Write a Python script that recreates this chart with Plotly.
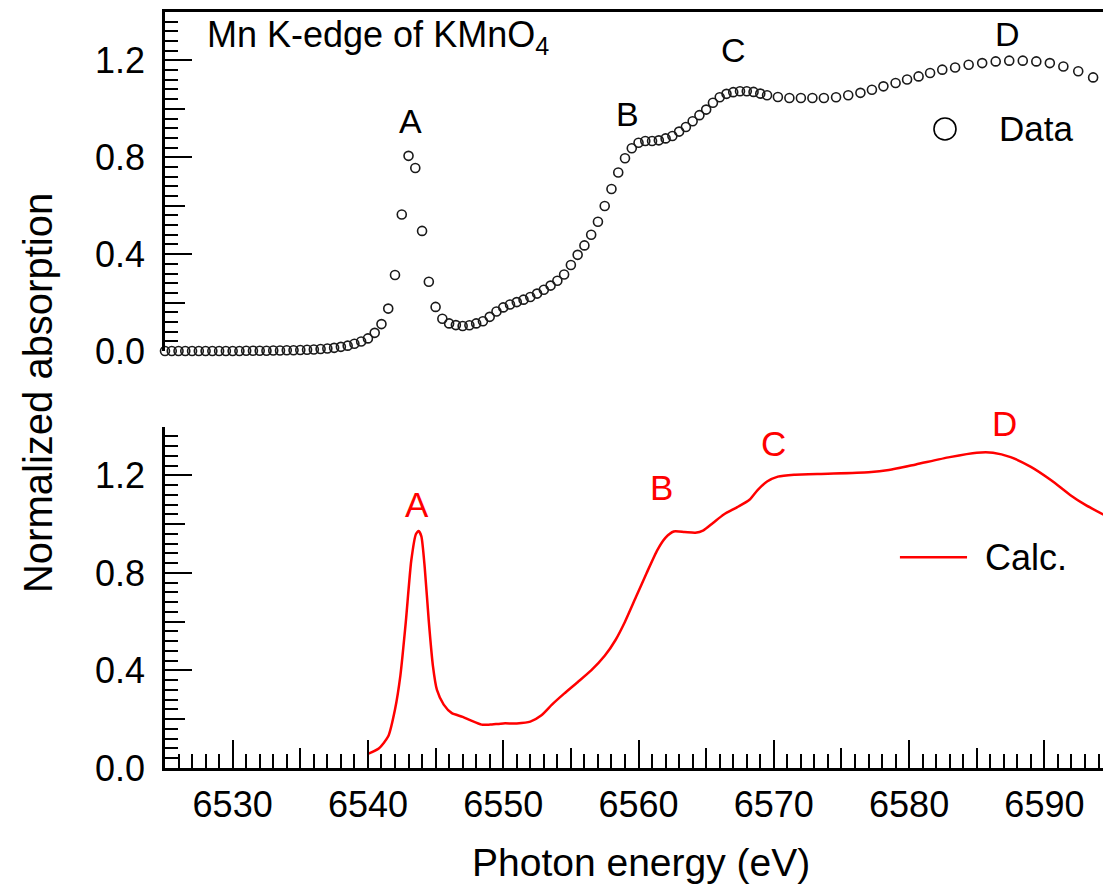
import plotly.graph_objects as go

# ---------------------------------------------------------------
# Mn K-edge XANES of KMnO4: measured spectrum (top) and calculation (bottom)
# ---------------------------------------------------------------

# Measured spectrum (open circles)
data_energy = [
    6525.0, 6525.5, 6526.0, 6526.5, 6527.0, 6527.5, 6528.0, 6528.5, 6529.0, 6529.5,
    6530.0, 6530.5, 6531.0, 6531.5, 6532.0, 6532.5, 6533.0, 6533.5, 6534.0, 6534.5,
    6535.0, 6535.5, 6536.0, 6536.5, 6537.0, 6537.5, 6538.0, 6538.5, 6539.0, 6539.5,
    6540.0, 6540.5, 6541.0, 6541.5, 6542.0, 6542.5, 6543.0, 6543.5, 6544.0, 6544.5,
    6545.0, 6545.5, 6546.0, 6546.5, 6547.0, 6547.5, 6548.0, 6548.5, 6549.0, 6549.5,
    6550.0, 6550.5, 6551.0, 6551.5, 6552.0, 6552.5, 6553.0, 6553.5, 6554.0, 6554.5,
    6555.0, 6555.5, 6556.0, 6556.5, 6557.0, 6557.5, 6558.0, 6558.5, 6559.0, 6559.5,
    6560.0, 6560.5, 6561.0, 6561.5, 6562.0, 6562.5, 6563.0, 6563.5, 6564.0, 6564.5,
    6565.0, 6565.5, 6566.0, 6566.5, 6567.0, 6567.5, 6568.0, 6568.5, 6569.0, 6569.5,
    6570.3, 6571.15, 6572.0, 6572.85, 6573.7, 6574.6, 6575.5, 6576.4, 6577.25, 6578.1,
    6579.0, 6579.85, 6580.7, 6581.55, 6582.45, 6583.4, 6584.4, 6585.4, 6586.4, 6587.4,
    6588.4, 6589.4, 6590.4, 6591.4, 6592.5, 6593.6,
]
data_absorption = [
    0.000, 0.000, 0.000, 0.000, 0.000, 0.000, 0.000, 0.000, 0.000, 0.000,
    0.000, 0.000, 0.001, 0.001, 0.001, 0.001, 0.002, 0.002, 0.003, 0.003,
    0.004, 0.005, 0.006, 0.008, 0.010, 0.013, 0.017, 0.022, 0.030, 0.039,
    0.052, 0.075, 0.111, 0.175, 0.314, 0.564, 0.806, 0.756, 0.496, 0.286,
    0.182, 0.133, 0.114, 0.107, 0.103, 0.106, 0.114, 0.123, 0.141, 0.163,
    0.180, 0.192, 0.202, 0.212, 0.223, 0.237, 0.253, 0.270, 0.290, 0.316,
    0.355, 0.397, 0.436, 0.480, 0.534, 0.599, 0.669, 0.737, 0.796, 0.837,
    0.860, 0.867, 0.867, 0.870, 0.878, 0.888, 0.906, 0.925, 0.949, 0.974,
    0.997, 1.025, 1.048, 1.062, 1.069, 1.073, 1.073, 1.070, 1.063, 1.056,
    1.049, 1.045, 1.045, 1.045, 1.045, 1.048, 1.056, 1.066, 1.079, 1.093,
    1.107, 1.121, 1.134, 1.148, 1.162, 1.171, 1.182, 1.189, 1.196, 1.199,
    1.199, 1.196, 1.189, 1.175, 1.155, 1.130,
]

# Calculated spectrum (red line)
calc_energy = [
    6540.0, 6540.8, 6541.5, 6542.0, 6542.4, 6542.8, 6543.2, 6543.55, 6543.75, 6543.95,
    6544.2, 6544.5, 6544.8, 6545.1, 6545.6, 6546.2, 6547.0, 6547.6, 6548.4, 6549.0,
    6550.0, 6551.0, 6552.0, 6552.8, 6553.6, 6554.5, 6555.5, 6556.5, 6557.5, 6558.3,
    6559.0, 6559.8, 6560.6, 6561.4, 6562.0, 6562.6, 6563.4, 6564.2, 6564.8, 6565.5,
    6566.3, 6567.3, 6568.2, 6568.8, 6569.5, 6570.3, 6571.5, 6574.0, 6577.0, 6578.5,
    6580.5, 6583.0, 6585.0, 6586.2, 6587.5, 6589.0, 6590.5, 6591.9, 6593.0, 6594.4,
]
calc_absorption = [
    0.058, 0.080, 0.130, 0.240, 0.380, 0.600, 0.850, 0.960, 0.972, 0.950,
    0.820, 0.600, 0.420, 0.320, 0.260, 0.225, 0.210, 0.195, 0.178, 0.178,
    0.183, 0.183, 0.190, 0.215, 0.260, 0.305, 0.352, 0.400, 0.460, 0.525,
    0.600, 0.700, 0.800, 0.895, 0.945, 0.970, 0.968, 0.965, 0.975, 1.005,
    1.040, 1.070, 1.100, 1.140, 1.175, 1.195, 1.203, 1.207, 1.213, 1.222,
    1.245, 1.275, 1.293, 1.293, 1.275, 1.235, 1.180, 1.120, 1.080, 1.038,
]

# Feature labels: (energy, absorption) in the top panel,
# (energy, fraction of figure plot height) in the bottom panel
feature_names = ["A", "B", "C", "D"]
data_label_pos = [(6543.18, 0.949), (6559.15, 0.978), (6567.05, 1.245), (6587.3, 1.311)]
calc_label_pos = [(6543.63, 0.3492), (6561.73, 0.3704), (6569.94, 0.4286), (6587.08, 0.4563)]

# Axes
x_range = [6525, 6594.33]
y_range = [0, 1.4]
x_tick_values = [6530, 6540, 6550, 6560, 6570, 6580, 6590]
x_mid_tick_values = [6525, 6535, 6545, 6555, 6565, 6575, 6585]
y_tick_values = [0.0, 0.4, 0.8, 1.2]
y_tick_text = ["0.0", "0.4", "0.8", "1.2"]
y_mid_tick_values = [0.2, 0.6, 1.0, 1.4]

FONT = "Liberation Sans, Arial, Helvetica, sans-serif"
LINE_W = 2.5
TICK_W = 2
TOP_DOMAIN = [0.5516, 1.0]
BOTTOM_DOMAIN = [0.0, 0.4515]

fig = go.Figure()

fig.add_trace(go.Scatter(
    x=data_energy, y=data_absorption, mode="markers", name="Data",
    marker=dict(symbol="circle-open", size=9, color="#1a1a1a", line=dict(width=1.6)),
    xaxis="x2", yaxis="y2", cliponaxis=False, showlegend=False, hoverinfo="x+y",
))
fig.add_trace(go.Scatter(
    x=calc_energy, y=calc_absorption, mode="lines", name="Calc.",
    line=dict(color="#ff0000", width=2.5, shape="spline", smoothing=0.6),
    xaxis="x", yaxis="y", showlegend=False, hoverinfo="x+y",
))
# empty traces that carry the intermediate-length tick axes
fig.add_trace(go.Scatter(x=[], y=[], xaxis="x3", yaxis="y", showlegend=False))
fig.add_trace(go.Scatter(x=[], y=[], xaxis="x", yaxis="y3", showlegend=False))
fig.add_trace(go.Scatter(x=[], y=[], xaxis="x2", yaxis="y4", showlegend=False))

common = dict(showgrid=False, zeroline=False, linecolor="black", tickcolor="black")

y_axis_style = dict(
    range=y_range, showline=True, linewidth=LINE_W, ticks="inside", ticklen=27,
    tickwidth=TICK_W, tickvals=y_tick_values, ticktext=y_tick_text,
    tickfont=dict(family=FONT, size=36, color="black"), ticklabelstandoff=10,
    minor=dict(tickmode="linear", tick0=0, dtick=0.04, ticks="inside", ticklen=13,
               tickwidth=TICK_W, tickcolor="black"),
    **common,
)
y_mid_style = dict(
    range=y_range, tickvals=y_mid_tick_values, ticks="inside", ticklen=20,
    tickwidth=TICK_W, showticklabels=False, showline=False, **common,
)

fig.update_layout(
    width=1103, height=888,
    margin=dict(l=165, r=0, t=12, b=120),
    paper_bgcolor="white", plot_bgcolor="white",
    font=dict(family=FONT, color="black"),
    showlegend=False,
    # bottom panel
    xaxis=dict(
        domain=[0, 1], anchor="y", range=x_range, showline=True, linewidth=LINE_W,
        ticks="inside", ticklen=28, tickwidth=TICK_W, tickvals=x_tick_values,
        tickfont=dict(family=FONT, size=36, color="black"), ticklabelstandoff=3,
        minor=dict(tickmode="linear", tick0=6525, dtick=1, ticks="inside", ticklen=14,
                   tickwidth=TICK_W, tickcolor="black"),
        **common,
    ),
    xaxis3=dict(
        overlaying="x", anchor="y", side="bottom", range=x_range,
        tickvals=x_mid_tick_values, ticks="inside", ticklen=20, tickwidth=TICK_W,
        showticklabels=False, showline=False, **common,
    ),
    yaxis=dict(domain=BOTTOM_DOMAIN, anchor="x", **y_axis_style),
    yaxis3=dict(overlaying="y", anchor="x", **y_mid_style),
    # top panel
    xaxis2=dict(
        domain=[0, 1], anchor="y2", side="top", range=x_range, showline=True,
        linewidth=LINE_W, ticks="", showticklabels=False, **common,
    ),
    yaxis2=dict(domain=TOP_DOMAIN, anchor="x2", **y_axis_style),
    yaxis4=dict(overlaying="y2", anchor="x2", **y_mid_style),
)

annotations = []
# panel title
annotations.append(dict(
    text="Mn K-edge of KMnO<sub>4</sub>", xref="x2", yref="y2", x=6527.96, y=1.295,
    xanchor="left", yanchor="middle", showarrow=False,
    font=dict(family=FONT, size=36, color="black"),
))
for name, (ex, ey) in zip(feature_names, data_label_pos):
    annotations.append(dict(
        text=name, xref="x2", yref="y2", x=ex, y=ey, showarrow=False,
        xanchor="center", yanchor="middle", font=dict(family=FONT, size=34, color="black"),
    ))
for name, (ex, ey) in zip(feature_names, calc_label_pos):
    annotations.append(dict(
        text=name, xref="x", yref="paper", x=ex, y=ey, showarrow=False,
        xanchor="center", yanchor="middle", font=dict(family=FONT, size=35, color="#ff0000"),
    ))
# legend texts
annotations.append(dict(
    text="Data", xref="x2", yref="y2", x=6586.49, y=0.917, xanchor="left",
    yanchor="middle", showarrow=False, font=dict(family=FONT, size=35, color="black"),
))
annotations.append(dict(
    text="Calc.", xref="x", yref="y", x=6585.46, y=0.864, xanchor="left",
    yanchor="middle", showarrow=False, font=dict(family=FONT, size=36, color="black"),
))
# axis titles
annotations.append(dict(
    text="Normalized absorption", xref="paper", yref="paper", x=-0.1354, y=0.496,
    xanchor="center", yanchor="middle", textangle=-90, showarrow=False,
    font=dict(family=FONT, size=40, color="black"),
))
annotations.append(dict(
    text="Photon energy (eV)", xref="paper", yref="paper", x=0.5075, y=-0.125,
    xanchor="center", yanchor="middle", showarrow=False,
    font=dict(family=FONT, size=39, color="black"),
))
fig.update_layout(annotations=annotations)

# legend symbols
fig.add_shape(
    type="circle", xref="x2", yref="y2", xsizemode="pixel", ysizemode="pixel",
    xanchor=6582.65, yanchor=0.917, x0=-11, x1=11, y0=-11, y1=11,
    line=dict(color="black", width=1.6), fillcolor="rgba(0,0,0,0)",
)
fig.add_shape(
    type="line", xref="x", yref="y", x0=6579.32, x1=6584.28, y0=0.864, y1=0.864,
    line=dict(color="#ff0000", width=2.5),
)

fig.write_html("out.html")
